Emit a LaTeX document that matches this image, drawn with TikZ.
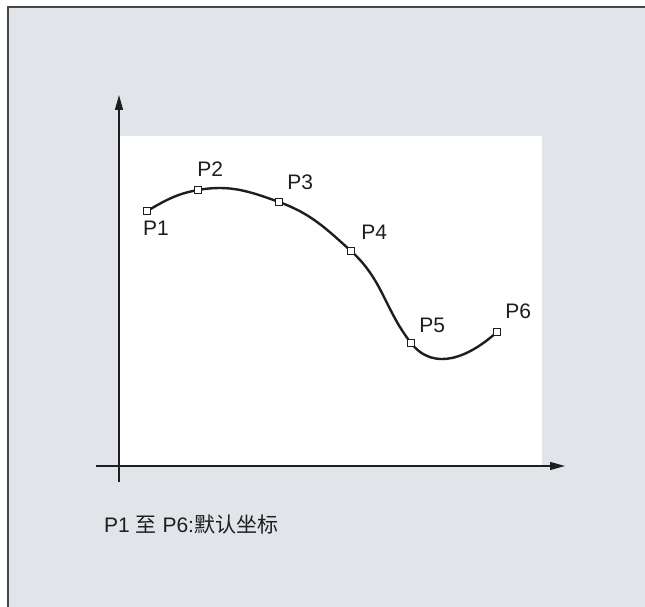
\documentclass[tikz,border=0pt]{standalone}
\usepackage{fontspec}
\setmainfont{Liberation Sans}
\newfontfamily\cjk{Noto Sans CJK SC}
\usetikzlibrary{arrows.meta,positioning}
\definecolor{panelgrey}{RGB}{225,228,233}
\definecolor{framegrey}{RGB}{70,70,70}
\definecolor{curveblack}{RGB}{30,30,30}

\begin{document}
\begin{tikzpicture}[x=1pt, y=-1pt,
    pt/.style={draw=curveblack, fill=white, line width=0.9pt, minimum size=7.5pt, inner sep=0pt},
    ptlabel/.style={font=\fontsize{21}{21}\selectfont, inner sep=0pt, text=curveblack},
    axis/.style={line width=1.2pt, curveblack, -{Triangle[length=15pt,width=8pt]}},
]
\useasboundingbox (0,0) rectangle (645,607);
% panel and frame
\fill[panelgrey] (8,7) rectangle (645,607);
\draw[framegrey, line width=2pt] (8,607) -- (8,7) -- (645,7);
\fill[white] (119,136) rectangle (542,466);

% axes
\coordinate (ybot) at (119,482);
\coordinate (ytop) at (119,95);
\coordinate (xleft) at (96,466);
\coordinate (xright) at (565,466);
\draw[axis] (ybot) -- (ytop);
\draw[axis] (xleft) -- (xright);

% points
\coordinate (P1) at (147,211);
\coordinate (P2) at (198,190);
\coordinate (P3) at (279,202);
\coordinate (P4) at (351,251);
\coordinate (P5) at (411,343);
\coordinate (P6) at (497,332);

\draw[curveblack, line width=2.4pt]
    (P1) to[out=30, in=190] (P2)
         to[out=10, in=160] (P3)
         to[out=-20, in=138] (P4)
         to[out=-42, in=128] (P5)
         to[out=-52, in=222, looseness=1.1] (P6);

\foreach \i in {1,...,6}
    \node[pt] (sq\i) at (P\i) {};

\node[ptlabel, below=6pt of sq1.south west, anchor=north west] (l1) {P1};
\node[ptlabel, above right=9pt and -5pt of sq2] (l2) {P2};
\node[ptlabel, above right=8pt and 4pt of sq3] (l3) {P3};
\node[ptlabel, above right=7pt and 6pt of sq4] (l4) {P4};
\node[ptlabel, above right=6pt and 4pt of sq5] (l5) {P5};
\node[ptlabel, above right=9pt and 4pt of sq6] (l6) {P6};

\node[ptlabel, anchor=base west] (note) at (104,532) {P1 {\cjk 至} P6:{\cjk 默认坐标}};
\end{tikzpicture}
\end{document}
